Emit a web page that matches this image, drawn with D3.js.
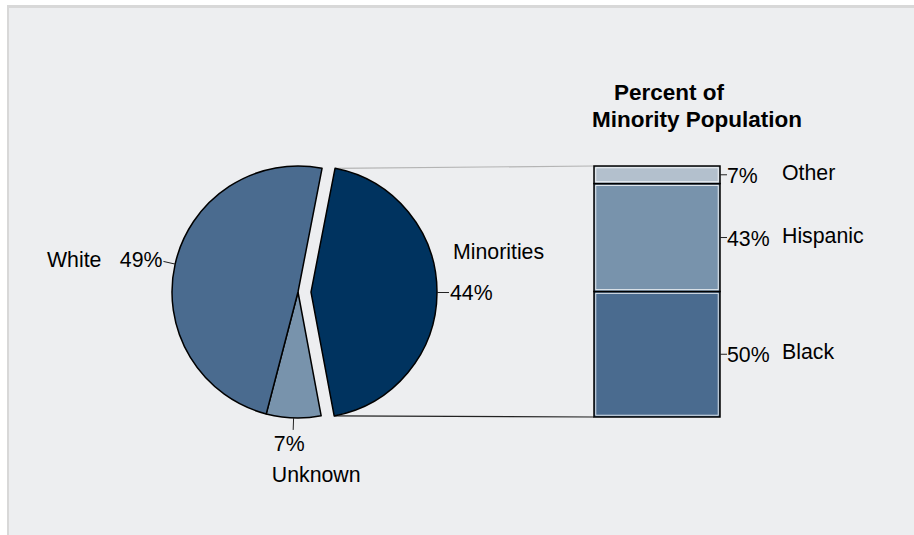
<!DOCTYPE html>
<html>
<head>
<meta charset="utf-8">
<script src="https://cdn.jsdelivr.net/npm/d3@7"></script>
<style>
  html, body { margin: 0; padding: 0; background: #fff; }
  svg { display: block; font-family: "Liberation Sans", Arial, sans-serif; }
</style>
</head>
<body>
<div id="chart"></div>
<script>
// pie data (clockwise from the exploded slice)
const pieLabels = ["Minorities", "Unknown", "White"];
const pieValues = [44, 7, 49];
const pieColors = ["#00335f", "#7893ac", "#4a6b8f"];

// stacked bar data (bottom to top)
const barLabels = ["Black", "Hispanic", "Other"];
const barValues = [50, 43, 7];
const barColors = ["#4a6b8f", "#7893ac", "#b3c0cd"];

const width = 914, height = 535;
const cx = 298, cy = 292, r = 126, explode = 13;
const startA = 11 * Math.PI / 180;

const svg = d3.select("#chart").append("svg")
  .attr("width", width).attr("height", height);

// panel background
svg.append("rect").attr("x", 7).attr("y", 5).attr("width", width).attr("height", height)
  .attr("fill", "#d8d8d8");
svg.append("rect").attr("x", 9).attr("y", 8).attr("width", width).attr("height", height)
  .attr("fill", "#edeef0");

let pie = d3.pie().sort(null).startAngle(startA).endAngle(startA + 2 * Math.PI);
let arcs = pie(pieValues);
arcs.forEach((a, i) => a.label = pieLabels[i]);

let arc = d3.arc().innerRadius(0).outerRadius(r);

function offset(a) {
  if (a.index !== 0) return [0, 0];
  let m = (a.startAngle + a.endAngle) / 2;
  return [explode * Math.sin(m), -explode * Math.cos(m)];
}
function polar(a, ang, rad) {
  let o = offset(a);
  return [cx + o[0] + rad * Math.sin(ang), cy + o[1] - rad * Math.cos(ang)];
}

// bar scale
let barX = 594, barW = 126;
let yScale = d3.scaleLinear().domain([0, 100]).range([417, 166]);
let cum = [0].concat(Array.from(d3.cumsum(barValues)));

// connector lines from exploded slice to bar
let minor = arcs[0];
let pTop = polar(minor, minor.startAngle, r);
let pBot = polar(minor, minor.endAngle, r);
svg.append("line")
  .attr("x1", pTop[0]).attr("y1", pTop[1])
  .attr("x2", barX).attr("y2", yScale(100))
  .attr("stroke", "#b4b4b4").attr("stroke-width", 1.2);
svg.append("line")
  .attr("x1", pBot[0]).attr("y1", pBot[1])
  .attr("x2", barX).attr("y2", yScale(0))
  .attr("stroke", "#222").attr("stroke-width", 1.2);

// slices
svg.append("g")
  .selectAll("path")
  .data(arcs)
  .enter()
  .append("path")
  .attr("transform", d => { let o = offset(d); return `translate(${cx + o[0]},${cy + o[1]})`; })
  .attr("d", arc)
  .attr("fill", (d, i) => pieColors[i])
  .attr("stroke", "#000")
  .attr("stroke-width", 1.5)
  .attr("stroke-linejoin", "round");

// pie label ticks
let fs = 21.3;
arcs.forEach((a, i) => {
  let m = (a.startAngle + a.endAngle) / 2;
  let p0 = polar(a, m, r), p1 = polar(a, m, r + 12);
  svg.append("line")
    .attr("x1", p0[0]).attr("y1", p0[1]).attr("x2", p1[0]).attr("y2", p1[1])
    .attr("stroke", "#222").attr("stroke-width", 1);
  let pct = pieValues[i] + "%";
  if (a.label === "Minorities") {
    svg.append("text").attr("x", p1[0] + 1).attr("y", p1[1] + 7.5)
      .style("font-size", fs + "px").text(pct);
    svg.append("text").attr("x", p1[0] + 4).attr("y", p1[1] - 34)
      .style("font-size", fs + "px").text(a.label);
  } else if (a.label === "Unknown") {
    svg.append("text").attr("x", p1[0] - 4).attr("y", p1[1] + 21)
      .attr("text-anchor", "middle").style("font-size", fs + "px").text(pct);
    svg.append("text").attr("x", p1[0] + 23).attr("y", p1[1] + 52)
      .attr("text-anchor", "middle").style("font-size", fs + "px").text(a.label);
  } else {
    svg.append("text").attr("x", p1[0] - 1).attr("y", p1[1] + 6)
      .attr("text-anchor", "end").style("font-size", fs + "px").text(pct);
    svg.append("text").attr("x", p1[0] - 62).attr("y", p1[1] + 6)
      .attr("text-anchor", "end").style("font-size", fs + "px").text(a.label);
  }
});

// stacked bar
let bar = svg.append("g");
bar.selectAll("rect.seg")
  .data(barValues)
  .enter()
  .append("rect")
  .classed("seg", true)
  .attr("x", barX)
  .attr("y", (d, i) => yScale(cum[i + 1]))
  .attr("width", barW)
  .attr("height", (d, i) => yScale(cum[i]) - yScale(cum[i + 1]))
  .attr("fill", (d, i) => barColors[i])
  .attr("stroke", "#000")
  .attr("stroke-width", 1.5);
bar.selectAll("rect.inner")
  .data(barValues)
  .enter()
  .append("rect")
  .classed("inner", true)
  .attr("x", barX + 1.8)
  .attr("y", (d, i) => yScale(cum[i + 1]) + 1.8)
  .attr("width", barW - 3.6)
  .attr("height", (d, i) => yScale(cum[i]) - yScale(cum[i + 1]) - 3.6)
  .attr("fill", "none")
  .attr("stroke", "#fff")
  .attr("stroke-width", 0.8);

// bar labels
barValues.forEach((v, i) => {
  let ym = (yScale(cum[i]) + yScale(cum[i + 1])) / 2;
  svg.append("line")
    .attr("x1", barX + barW).attr("y1", ym).attr("x2", barX + barW + 7).attr("y2", ym)
    .attr("stroke", "#222").attr("stroke-width", 1);
  svg.append("text").attr("x", barX + barW + 7).attr("y", ym + 8)
    .style("font-size", fs + "px").text(v + "%");
  svg.append("text").attr("x", barX + barW + 62).attr("y", ym + 5)
    .style("font-size", fs + "px").text(barLabels[i]);
});

// title
svg.append("text").attr("x", 669).attr("y", 100)
  .attr("text-anchor", "middle").style("font-size", "22.5px").style("font-weight", "bold")
  .text("Percent of");
svg.append("text").attr("x", 697).attr("y", 127)
  .attr("text-anchor", "middle").style("font-size", "22.5px").style("font-weight", "bold")
  .text("Minority Population");
</script>
</body>
</html>
